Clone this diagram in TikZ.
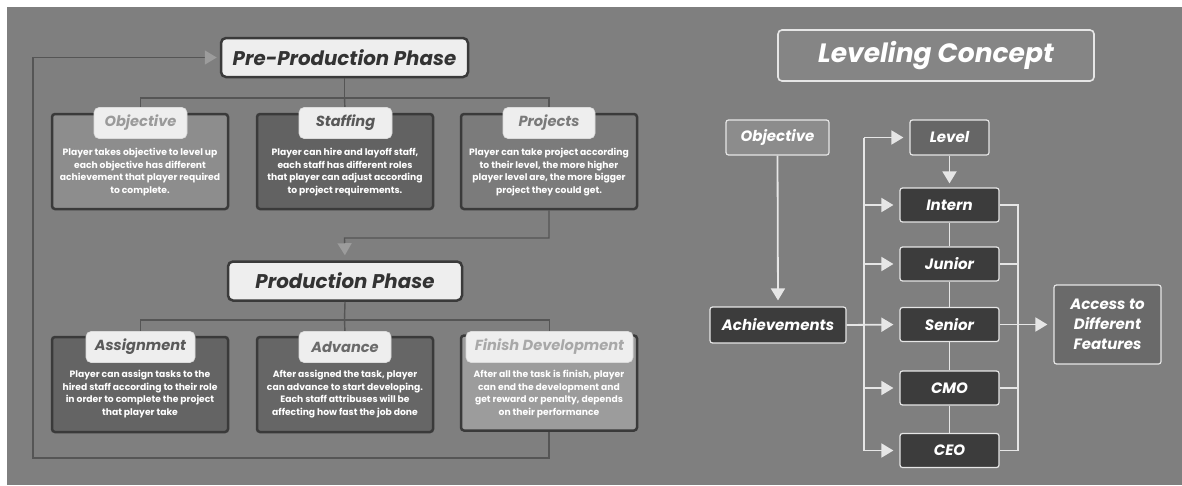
\documentclass[tikz,border=0pt]{standalone}
\usepackage{fontspec}
\setmainfont{Poppins}
\usetikzlibrary{arrows.meta}

\definecolor{bg}{HTML}{7F7F7F}
\definecolor{boxline}{HTML}{3A3A3A}
\definecolor{tabfill}{HTML}{EEEEEE}
\definecolor{tabline}{HTML}{DADADA}
\definecolor{titletext}{HTML}{333333}
\definecolor{conn}{HTML}{555555}
\definecolor{tipgray}{HTML}{9C9C9C}
\definecolor{wire}{HTML}{E6E6E6}
\definecolor{rank}{HTML}{3C3C3C}

\tikzset{
  phase/.style={draw=boxline, line width=2.5pt, fill=tabfill, rounded corners=5pt,
    text=titletext, inner sep=0pt, minimum height=39pt,
    font=\bfseries\itshape\fontsize{19.8}{22}\selectfont},
  card/.style={draw=boxline, line width=2.5pt, rounded corners=3pt,
    minimum width=176pt, minimum height=95pt, inner sep=0pt},
  tab/.style={fill=tabfill, draw=tabline, line width=0.6pt, rounded corners=5pt,
    minimum height=31pt, inner sep=0pt,
    font=\bfseries\itshape\fontsize{14.6}{16}\selectfont},
  body/.style={text=white, align=center, inner sep=0pt,
    font=\bfseries\fontsize{9.2}{12.6}\selectfont},
  link/.style={draw=conn, line width=1.4pt},
  graytip/.style={-{Triangle[width=14pt,length=12pt,color=tipgray]}},
  lvbox/.style={draw=wire, line width=1.2pt, rounded corners=2.5pt, inner sep=0pt,
    text=white, font=\bfseries\itshape\fontsize{15}{20}\selectfont},
  rankbox/.style={lvbox, fill=rank, minimum width=99pt, minimum height=34pt},
  wireline/.style={draw=wire, line width=1.8pt},
  whitetip/.style={-{Triangle[width=14pt,length=12pt,color=wire]}, shorten >=6pt}
}

\begin{document}
\begin{tikzpicture}[x=1pt, y=-1pt]
\useasboundingbox (0,0) rectangle (1182,485);
\fill[white] (0,0) rectangle (1182,485);
\fill[bg] (7,7) rectangle (1182,485);

% ---------- development phases ----------
\node[phase, minimum width=247pt] (pre) at (344.5,57.5) {Pre-Production Phase};
\node[phase, minimum width=234pt] (prod) at (345,281) {Production Phase};

\node[card, fill={rgb,255:red,141;green,141;blue,141}] (c1) at (140,161.5) {};
\node[card, fill={rgb,255:red,98;green,98;blue,98}] (c2) at (345,161.5) {};
\node[card, fill={rgb,255:red,123;green,123;blue,123}] (c3) at (549,161.5) {};
\node[card, fill={rgb,255:red,100;green,100;blue,100}] (c4) at (140,384.5) {};
\node[card, fill={rgb,255:red,102;green,102;blue,102}] (c5) at (345,384.5) {};
\node[card, fill={rgb,255:red,156;green,156;blue,156}] (c6) at (549,383) {};

% tree connectors
\coordinate (hb1) at (344.5,98);
\coordinate (hb2) at (344.5,320);
\coordinate (turn) at (344.5,238);
\coordinate (loop) at (33,458);

\draw[link] (pre.south) -- (hb1);
\draw[link] (140.5,110) |- (hb1) -| (549,110);
\draw[link] (hb1) -- (345,110);
\draw[link] (prod.south) -- (hb2);
\draw[link] (140.5,333) |- (hb2) -| (549.5,333);
\draw[link] (hb2) -- (345,333);
\draw[link, graytip, shorten >=5pt] (c3.south) |- (turn) -- (prod.north);
\draw[link, graytip, shorten >=3pt] (c6.south) |- (loop) |- (pre.west);

% labels on the cards
\node[tab, minimum width=93pt, text={rgb,255:red,154;green,154;blue,154}] (t1) at (140.5,123) {Objective};
\node[tab, minimum width=93pt, text={rgb,255:red,88;green,88;blue,88}] (t2) at (345.5,123) {Staffing};
\node[tab, minimum width=92pt, text={rgb,255:red,122;green,122;blue,122}] (t3) at (549,123) {Projects};
\node[tab, minimum width=109pt, text={rgb,255:red,90;green,90;blue,90}] (t4) at (140.5,347) {Assignment};
\node[tab, minimum width=92pt, text={rgb,255:red,106;green,106;blue,106}] (t5) at (345,347) {Advance};
\node[tab, minimum width=167pt, text={rgb,255:red,168;green,168;blue,168}] (t6) at (549.5,347) {Finish Development};

\node[body] (b1) at (140,172) {Player takes objective to level up\\each objective has different\\achievement that player required\\to complete.};
\node[body] (b2) at (345,172) {Player can hire and layoff staff,\\each staff has different roles\\that player can adjust according\\to project requirements.};
\node[body] (b3) at (549,172) {Player can take project according\\to their level, the more higher\\player level are, the more bigger\\project they could get.};
\node[body] (b4) at (140,394) {Player can assign tasks to the\\hired staff according to their role\\in order to complete the project\\that player take};
\node[body] (b5) at (345,394) {After assigned the task, player\\can advance to start developing.\\Each staff attribuses will be\\affecting how fast the job done};
\node[body] (b6) at (549,394) {After all the task is finish, player\\can end the development and\\get reward or penalty, depends\\on their performance};

% ---------- leveling concept ----------
\node[lvbox, line width=1.6pt, rounded corners=4pt, fill={rgb,255:red,133;green,133;blue,133},
  minimum width=316pt, minimum height=51pt, font=\bfseries\itshape\fontsize{26.5}{30}\selectfont]
  (lc) at (936,55.5) {Leveling Concept};

\node[lvbox, fill={rgb,255:red,140;green,140;blue,140}, minimum width=103pt, minimum height=35pt] (obj) at (777.5,137.5) {Objective};
\node[lvbox, fill={rgb,255:red,102;green,102;blue,102}, minimum width=79pt, minimum height=35pt] (lev) at (949.5,137.5) {Level};
\node[rankbox] (intern) at (949.5,205) {Intern};
\node[rankbox] (junior) at (949.5,264) {Junior};
\node[rankbox] (senior) at (949.5,324.5) {Senior};
\node[rankbox] (cmo) at (949.5,388) {CMO};
\node[rankbox] (ceo) at (949.5,450.5) {CEO};
\node[lvbox, fill=rank, minimum width=136pt, minimum height=36pt] (ach) at (778,325) {Achievements};
\node[lvbox, fill={rgb,255:red,106;green,106;blue,106}, minimum width=107pt, minimum height=79pt, align=center]
  (acc) at (1107.5,324.5) {Access to\\Different\\Features};

\coordinate (busL) at (864,0);
\coordinate (busR) at (1018,0);

\draw[wireline, whitetip] (obj.south) -- (ach.north);
\draw[wireline, whitetip, shorten >=4pt] (lev.south) -- (intern.north);
\draw[wireline] (intern.south) -- (junior.north);
\draw[wireline] (junior.south) -- (senior.north);
\draw[wireline] (senior.south) -- (cmo.north);
\draw[wireline] (cmo.south) -- (ceo.north);

\draw[wireline] (busL |- lev.west) -- (busL |- ceo.west);
\foreach \n in {lev,intern,junior,cmo,ceo}
  \draw[wireline, whitetip] (busL |- \n.west) -- (\n.west);
\draw[wireline, whitetip] (ach.east) -- (senior.west);

\draw[wireline] (intern.east) -| (busR |- ceo.east) -- (ceo.east);
\draw[wireline] (junior.east) -- (busR |- junior.east);
\draw[wireline] (cmo.east) -- (busR |- cmo.east);
\draw[wireline, whitetip] (senior.east) -- (acc.west);
\end{tikzpicture}
\end{document}
